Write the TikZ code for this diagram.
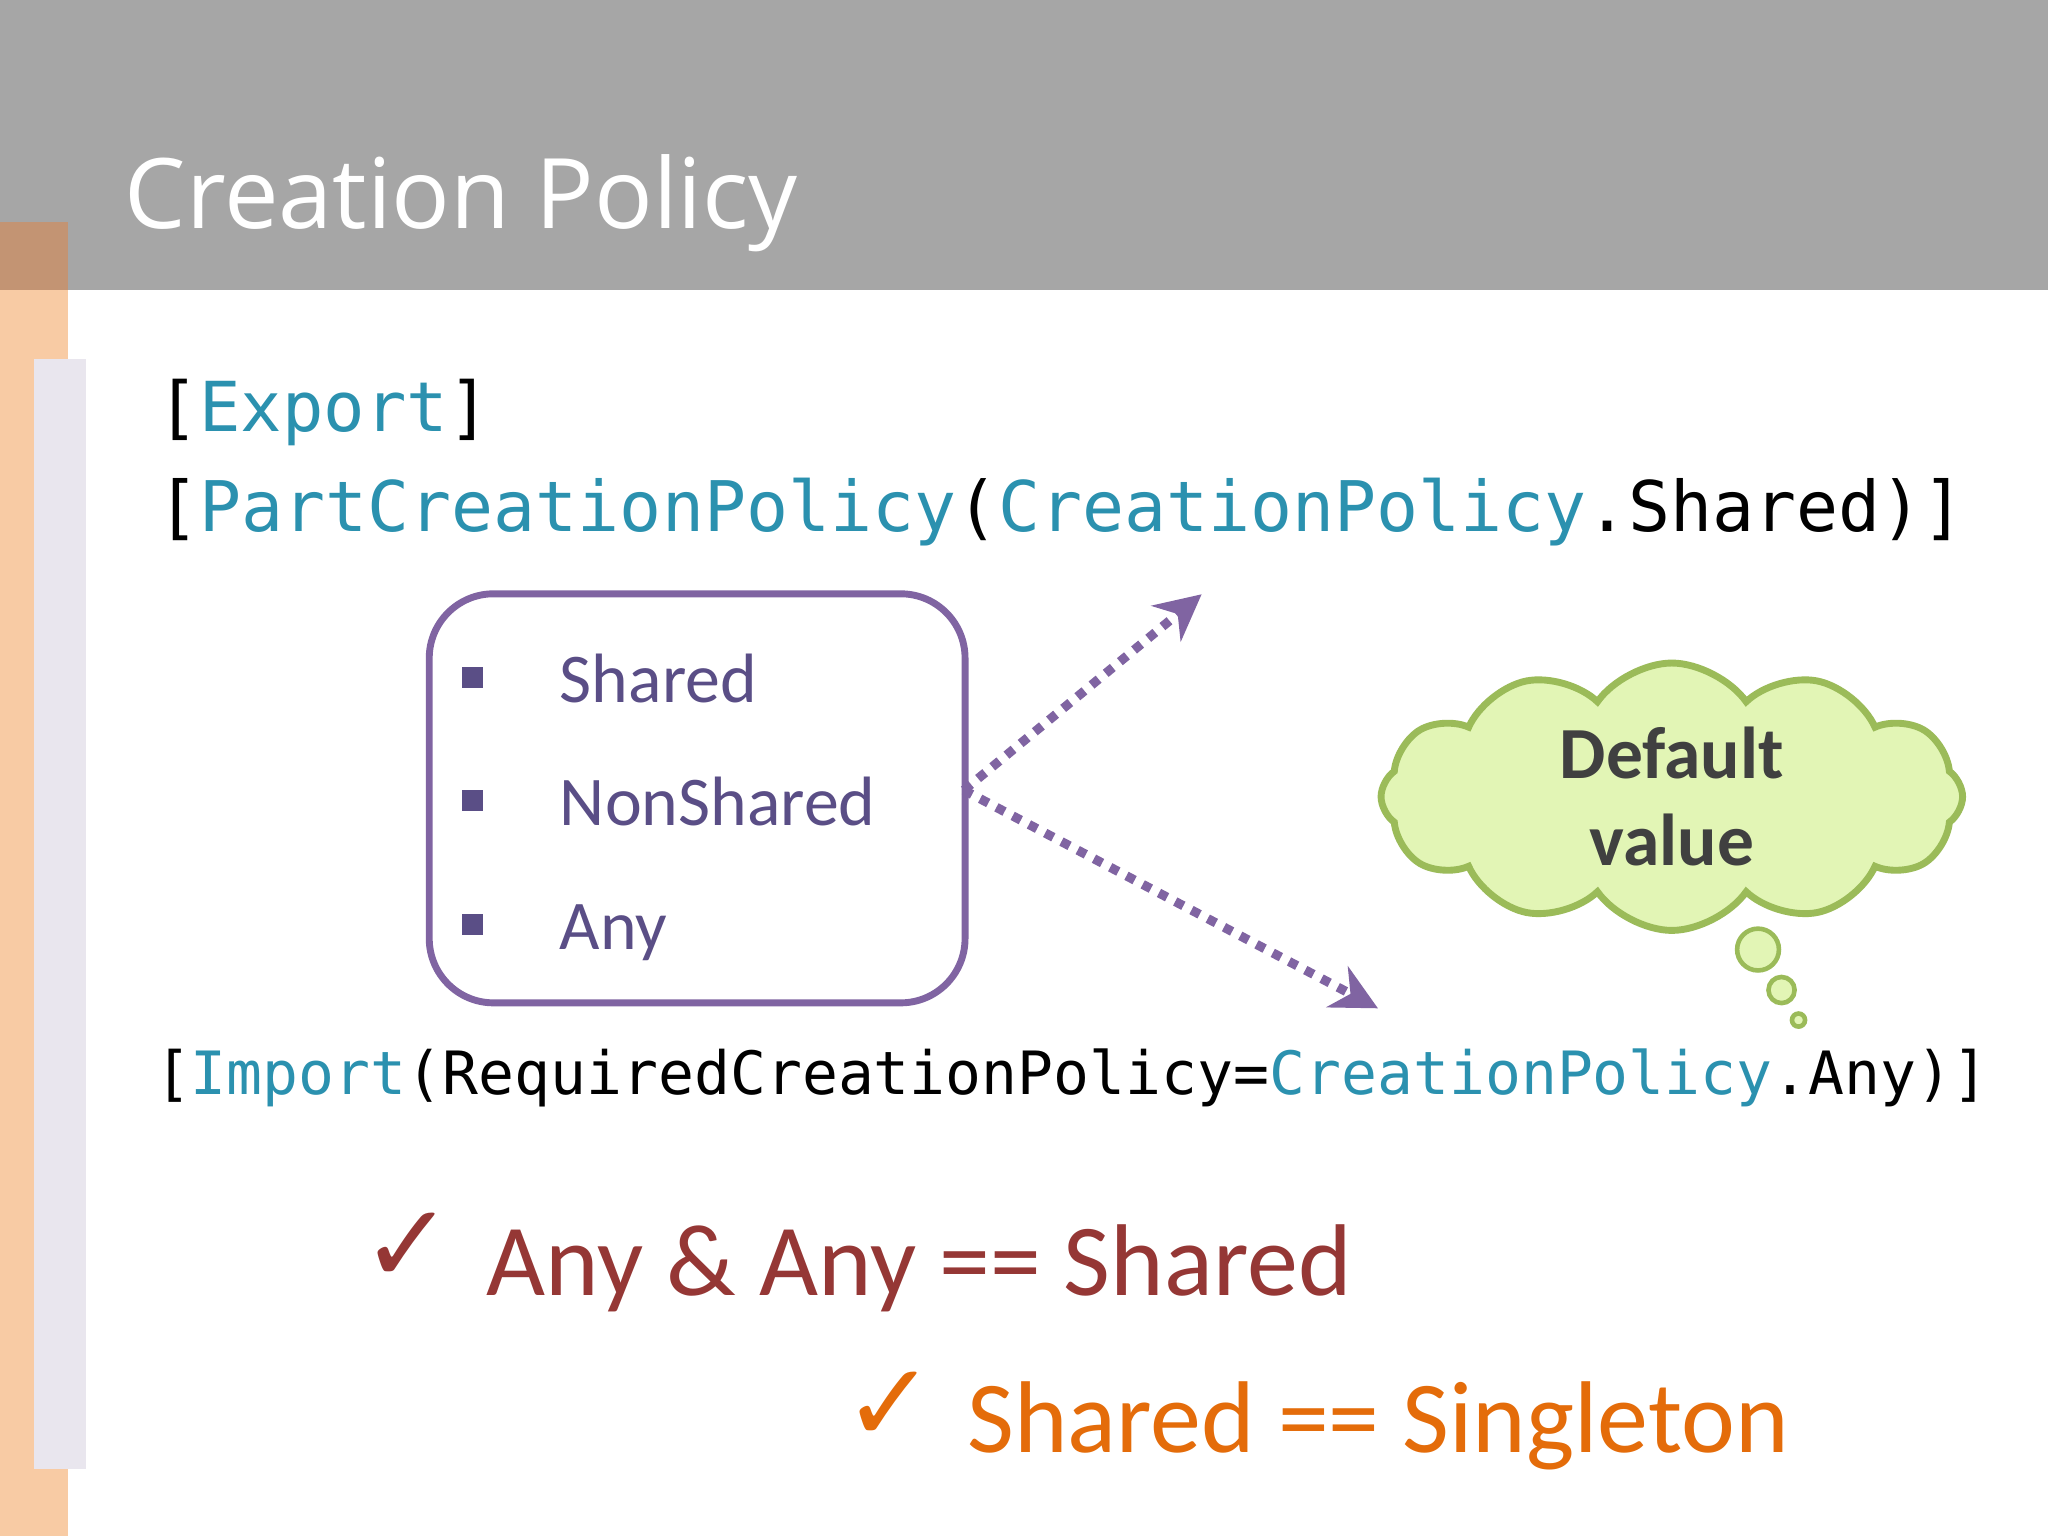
\documentclass[tikz,border=0pt]{standalone}
\usepackage{fontspec}
\setmainfont{Carlito}
\newfontfamily\titlefont{Open Sans}
\newfontfamily\codefont{DejaVu Sans Mono}
\newfontfamily\symfont{DejaVu Sans}
\usetikzlibrary{shapes.symbols,arrows.meta}
\definecolor{hdr}{HTML}{A6A6A6}
\definecolor{orbar}{HTML}{F8CBA4}
\definecolor{orbardk}{HTML}{C39473}
\definecolor{stripe}{HTML}{E9E6EE}
\definecolor{teal}{HTML}{2B91AF}
\definecolor{purp}{HTML}{8064A2}
\definecolor{ptext}{HTML}{5A4E86}
\definecolor{dred}{HTML}{953735}
\definecolor{orng}{HTML}{E46C0A}
\definecolor{cloudfill}{HTML}{E2F5B5}
\definecolor{cloudline}{HTML}{9BBB59}
\tikzset{
  txt/.style={anchor=base west, inner sep=0pt},
  dotarrow/.style={purp, line width=2pt, dotted, -{Stealth[length=10pt,width=10pt]}},
  bub/.style={fill=cloudfill, draw=cloudline, line width=1pt}
}
\begin{document}
\begin{tikzpicture}[x=0.01cm,y=-0.01cm]
\useasboundingbox (0,0) rectangle (1568,1176);
\fill[white] (0,0) rectangle (1568,1176);
\fill[hdr] (0,0) rectangle (1568,222);
\fill[orbar] (0,222) rectangle (52,1176);
\fill[orbardk] (0,170) rectangle (52,222);
\fill[stripe] (26,275) rectangle (66,1125);
\node[txt, text=white, font=\titlefont\fontsize{21.2}{26}\selectfont] (title) at (95,175) {Creation Policy};
\node[txt, font=\codefont\fontsize{15}{18}\selectfont] (exp) at (120,330) {[\textcolor{teal}{Export}]};
\node[txt, font=\codefont\fontsize{15.2}{18}\selectfont] (pcp) at (120,407) {[\textcolor{teal}{PartCreationPolicy}(\textcolor{teal}{CreationPolicy}.Shared)]};
\node[draw=purp, line width=1.5pt, rounded corners=14pt, minimum width=4.1cm, minimum height=3.13cm, anchor=north west] (box) at (326,452) {};
\foreach \y/\t in {538/Shared, 632/NonShared, 727/Any}{
  \fill[ptext] (354,\y-27) rectangle (370,\y-11);
  \node[txt, text=ptext, font=\fontsize{15.2}{18}\selectfont] at (428,\y) {\t};
}
\coordinate (src) at (738,605);
\coordinate (up) at (920,455);
\coordinate (dn) at (1055,772);
\draw[dotarrow] (src) -- (up);
\draw[dotarrow] (src) -- (dn);
\node[cloud, cloud puffs=12, cloud puff arc=110, aspect=2.9, bub, line width=1.5pt, minimum width=4.45cm, minimum height=1.6cm, inner sep=0pt, font=\bfseries\fontsize{16}{18}\selectfont, text=black!75, align=center] (cloud) at (1280,610) {Default\\[1pt]value};
\node[circle, bub, minimum size=0.32cm, inner sep=0pt] (b1) at (1346,727) {};
\node[circle, bub, minimum size=0.2cm, inner sep=0pt] (b2) at (1364,758) {};
\node[circle, bub, minimum size=0.1cm, inner sep=0pt] (b3) at (1377,781) {};
\node[txt, font=\codefont\fontsize{13}{16}\selectfont] (imp) at (118,838) {[\textcolor{teal}{Import}(RequiredCreationPolicy=\textcolor{teal}{CreationPolicy}.Any)]};
\node[txt, text=dred, font=\symfont\fontsize{24}{28}\selectfont] (c1) at (276,982) {✓};
\node[txt, text=dred, font=\fontsize{22.2}{28}\selectfont] (l1) at (372,992) {Any \& Any == Shared};
\node[txt, text=orng, font=\symfont\fontsize{24}{28}\selectfont] (c2) at (645,1104) {✓};
\node[txt, text=orng, font=\fontsize{22.2}{28}\selectfont] (l2) at (740,1112) {Shared == Singleton};
\end{tikzpicture}
\end{document}
